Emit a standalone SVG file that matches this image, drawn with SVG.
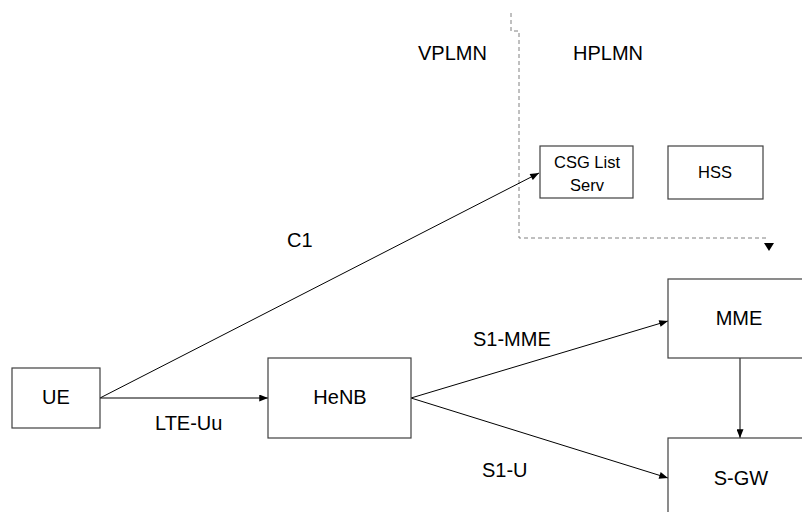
<svg xmlns="http://www.w3.org/2000/svg" width="802" height="512" viewBox="0 0 802 512">
  <style>
    .box { fill: #ffffff; stroke: #404040; stroke-width: 1.2; }
    .lbl { font-family: "Liberation Sans", Arial, sans-serif; font-size: 20px; fill: #000000; }
    .sm { font-size: 16.5px; }
    .mid { text-anchor: middle; }
    .conn { stroke: #000000; stroke-width: 1; fill: none; }
    .border { stroke: #808080; stroke-width: 1; fill: none; stroke-dasharray: 4 3; }
  </style>
  <defs>
    <marker id="arrow" viewBox="0 0 10 8" refX="10" refY="4" markerWidth="10" markerHeight="7" markerUnits="userSpaceOnUse" orient="auto">
      <path d="M0,0 L10,4 L0,8 Z" fill="#000000"/>
    </marker>
  </defs>

  <rect width="802" height="512" fill="#ffffff"/>

  <!-- network boundary between visited and home PLMN -->
  <g id="plmn-boundary">
    <path class="border" d="M511,13 V31 H519 V238 H769"/>
    <polygon points="764,243 774,243 769,251" fill="#000000"/>
    <text class="lbl" x="418" y="60">VPLMN</text>
    <text class="lbl" x="573" y="60">HPLMN</text>
  </g>

  <!-- connectors -->
  <g id="connectors">
    <line class="conn" x1="100" y1="398" x2="539" y2="173" marker-end="url(#arrow)"/>
    <line class="conn" x1="100" y1="398" x2="268" y2="398" marker-end="url(#arrow)"/>
    <line class="conn" x1="411" y1="398" x2="668" y2="321" marker-end="url(#arrow)"/>
    <line class="conn" x1="411" y1="398" x2="668" y2="478" marker-end="url(#arrow)"/>
    <line class="conn" x1="740" y1="358" x2="740" y2="438" marker-end="url(#arrow)"/>
    <text class="lbl" x="287" y="247">C1</text>
    <text class="lbl" x="155" y="430">LTE-Uu</text>
    <text class="lbl" x="473" y="346">S1-MME</text>
    <text class="lbl" x="482" y="477">S1-U</text>
  </g>

  <g id="ue">
    <rect class="box" x="12" y="368" width="88" height="60"/>
    <text class="lbl mid" x="56" y="404">UE</text>
  </g>

  <g id="henb">
    <rect class="box" x="268" y="358" width="143" height="80"/>
    <text class="lbl mid" x="340" y="404">HeNB</text>
  </g>

  <g id="csg-list-server">
    <rect class="box" x="540" y="146" width="93" height="52"/>
    <text class="lbl sm mid" x="587" y="168">CSG List</text>
    <text class="lbl sm mid" x="587" y="191">Serv</text>
  </g>

  <g id="hss">
    <rect class="box" x="668" y="146" width="95" height="53"/>
    <text class="lbl sm mid" x="715" y="178">HSS</text>
  </g>

  <g id="mme">
    <rect class="box" x="668" y="279" width="142" height="79"/>
    <text class="lbl mid" x="739" y="325">MME</text>
  </g>

  <g id="sgw">
    <rect class="box" x="668" y="438" width="142" height="90"/>
    <text class="lbl mid" x="741" y="485">S-GW</text>
  </g>
</svg>
